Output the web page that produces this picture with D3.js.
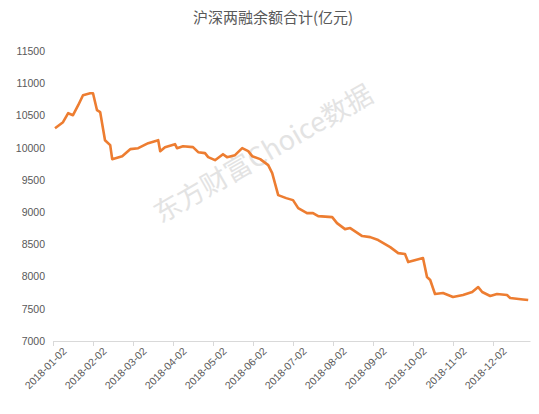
<!DOCTYPE html>
<html><head><meta charset="utf-8">
<script src="https://cdn.jsdelivr.net/npm/d3@7"></script>
<style>body{margin:0;background:#fff}</style>
</head><body><div id="chart"></div>
<script>
const monthLabels = ['2018-01-02','2018-02-02','2018-03-02','2018-04-02','2018-05-02','2018-06-02',
  '2018-07-02','2018-08-02','2018-09-02','2018-10-02','2018-11-02','2018-12-02'];
const yTicks = [7000,7500,8000,8500,9000,9500,10000,10500,11000,11500];
// position in months since 2018-01-02, and balance (亿元)
const monthPos = [0.05,0.25,0.38,0.5,0.63,0.75,0.93,1.0,1.1,1.18,1.3,1.43,1.48,1.73,1.93,2.13,2.38,2.63,2.68,2.8,3.05,3.1,3.25,3.5,3.63,3.8,3.88,4.05,4.25,4.35,4.55,4.73,4.88,4.98,5.18,5.38,5.48,5.63,5.83,6.0,6.13,6.35,6.5,6.63,6.98,7.1,7.3,7.43,7.73,7.93,8.13,8.43,8.63,8.8,8.88,9.25,9.35,9.43,9.55,9.75,10.0,10.25,10.48,10.63,10.73,10.93,11.1,11.35,11.43,11.75,11.88];
const balance = [10302,10395,10535,10504,10659,10814,10845,10845,10581,10550,10116,10039,9822,9868,9977,9992,10070,10116,9946,10008,10054,9992,10023,10008,9930,9915,9853,9806,9899,9853,9884,9992,9946,9868,9822,9729,9605,9264,9217,9186,9062,8985,8985,8938,8922,8829,8736,8752,8628,8612,8566,8457,8364,8349,8225,8287,7992,7946,7729,7744,7682,7713,7760,7837,7760,7698,7729,7713,7667,7645,7636];

const width = 539, height = 414;
const svg = d3.select('#chart').append('svg').attr('width', width).attr('height', height);

const x = d3.scaleLinear().domain([0, 11.925]).range([53, 530]);
const y = d3.scaleLinear().domain([7000, 11500]).range([341, 51]);

svg.append('text').attr('x', 273).attr('y', 23).attr('text-anchor', 'middle')
  .attr('font-family', 'Noto Sans CJK SC').attr('font-size', 15).attr('fill', '#595959')
  .text('沪深两融余额合计(亿元)');

svg.append('text').attr('transform', 'translate(268,162) rotate(-30)')
  .attr('text-anchor', 'middle').attr('font-family', 'Noto Sans CJK SC')
  .attr('font-size', 27).attr('fill', '#e3e3e3').text('东方财富Choice数据');

const yAxis = svg.append('g').attr('transform', 'translate(53,0)')
  .call(d3.axisLeft(y).tickValues(yTicks).tickFormat(d3.format('d')).tickSize(0).tickPadding(8));
yAxis.select('.domain').remove();
yAxis.selectAll('text').attr('font-family', 'Liberation Sans').attr('font-size', 10.5).attr('fill', '#595959');

const xAxis = svg.append('g').attr('transform', 'translate(0,341)')
  .call(d3.axisBottom(x).tickValues(d3.range(12)).tickFormat(i => monthLabels[i]).tickSize(5).tickSizeOuter(0));
xAxis.select('.domain').attr('stroke', '#d9d9d9');
xAxis.selectAll('line').attr('stroke', '#d9d9d9');
xAxis.selectAll('text').attr('font-family', 'Liberation Sans').attr('font-size', 10.5).attr('fill', '#595959')
  .attr('text-anchor', 'end').attr('dx', '0.2em').attr('dy', '0.9em')
  .attr('transform', 'rotate(-45)');

const line = d3.line().x((d, i) => x(monthPos[i])).y(d => y(d));
svg.append('path').datum(balance).attr('d', line).attr('fill', 'none')
  .attr('stroke', '#ED7D31').attr('stroke-width', 2.6).attr('stroke-linejoin', 'round');
</script></body></html>
